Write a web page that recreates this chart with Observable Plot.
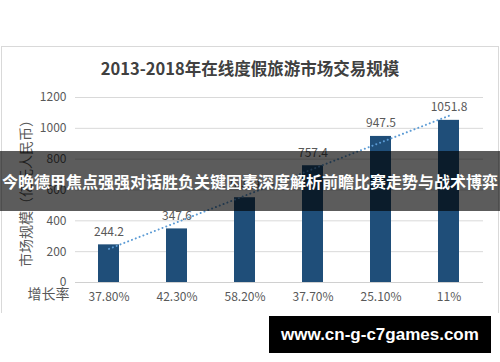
<!DOCTYPE html>
<html>
<head>
<meta charset="utf-8">
<script src="https://cdn.jsdelivr.net/npm/d3@7"></script>
<script src="https://cdn.jsdelivr.net/npm/@observablehq/plot@0.6"></script>
<style>
  html, body { margin: 0; padding: 0; background: #fff; }
  #wrap { position: relative; width: 500px; height: 362px; overflow: hidden; background: #fff;
          font-family: "Noto Sans CJK SC", sans-serif; }
  #frame { position: absolute; left: 1px; top: 46px; width: 498px; height: 267px; box-sizing: border-box;
           border: 1px solid #d9d9d9; border-bottom: none; }
  #title { position: absolute; left: 0; top: 56px; width: 500px; text-align: center;
           font-size: 16.5px; font-weight: bold; color: #404040; line-height: 24px; }
  #chart { position: absolute; left: 0; top: 80px; }
  #ylabel { position: absolute; left: 25px; top: 189.5px; width: 0; height: 0; }
  #ylabel span { position: absolute; left: 0; top: 0; transform: translate(-50%, -50%) rotate(-90deg);
                 white-space: nowrap; font-size: 14px; color: #595959; line-height: 16px; }
  #banner { position: absolute; left: 0; top: 151px; width: 500px; height: 60px; background: rgba(0,0,0,0.64);
            color: #fff; font-weight: bold; font-size: 16px; line-height: 60px; text-align: center; white-space: nowrap; }
  #mark { position: absolute; left: 269px; top: 316px; width: 222px; height: 37px; background: #000;
          color: #fff; font-family: "Liberation Sans", Arial, sans-serif; font-weight: bold; font-size: 17px;
          line-height: 37px; text-align: center; }
</style>
</head>
<body>
<div id="wrap">
  <div id="frame"></div>
  <div id="title"></div>
  <div id="chart"></div>
  <div id="ylabel"><span></span></div>
  <div id="banner"></div>
  <div id="mark"></div>
</div>
<script>
const titleText = "2013-2018年在线度假旅游市场交易规模";
const years = ["2013", "2014", "2015", "2016", "2017", "2018"];
const values = [244.2, 347.6, 549.9, 757.4, 947.5, 1051.8];
const growth = ["37.80%", "42.30%", "58.20%", "37.70%", "25.10%", "11%"];
const yTicks = [0, 200, 400, 600, 800, 1000, 1200];
const yLabel = "市场规模（亿元人民币）";
const growthLabel = "增长率";
const bannerText = "今晚德甲焦点强强对话胜负关键因素深度解析前瞻比赛走势与战术博弈";
const markText = "www.cn-g-c7games.com";

document.getElementById("title").textContent = titleText;
document.querySelector("#ylabel span").textContent = yLabel;
document.getElementById("banner").textContent = bannerText;
document.getElementById("mark").textContent = markText;

const data = years.map((y, i) => ({year: y, value: values[i], growth: growth[i], idx: i + 1}));

// linear trendline (least squares) computed from the data
const mx = d3.mean(data, d => d.idx), my = d3.mean(data, d => d.value);
const slope = d3.sum(data, d => (d.idx - mx) * (d.value - my)) / d3.sum(data, d => (d.idx - mx) ** 2);
const trend = data.map(d => ({year: d.year, value: my + slope * (d.idx - mx)}));

const plot = Plot.plot({
  width: 500,
  height: 232,
  marginLeft: 75,
  marginRight: 17,
  marginTop: 17,
  marginBottom: 30,
  style: {fontFamily: '"Noto Sans CJK SC", sans-serif', fontSize: "12px", color: "#595959", background: "transparent"},
  x: {domain: years, paddingInner: 0.69, paddingOuter: 0.345, label: null},
  y: {domain: [0, 1200], ticks: yTicks, label: null},
  marks: [
    Plot.gridY(yTicks.filter(t => t > 0), {stroke: "#d9d9d9", strokeOpacity: 1}),
    Plot.ruleY([0], {stroke: "#d0d0d0"}),
    Plot.axisY({ticks: yTicks, tickSize: 0, tickPadding: 9, label: null, fill: "#595959",
                tickFormat: d => String(d)}),
    Plot.axisX({tickSize: 0, tickPadding: 10, label: null, fill: "#595959",
                tickFormat: d => growth[years.indexOf(d)]}),
    Plot.barY(data, {x: "year", y: "value", fill: "#1f4e79"}),
    Plot.line(trend, {x: "year", y: "value", stroke: "#5b9bd5", strokeWidth: 2,
                      strokeDasharray: "0.1,4", strokeLinecap: "round"}),
    Plot.text(data, {x: "year", y: "value", text: d => d.value.toFixed(1), dy: -9,
                     lineAnchor: "bottom", fill: "#595959", fontSize: 12}),
    Plot.text([growthLabel], {text: d => d, frameAnchor: "bottom-left", textAnchor: "middle",
                              dx: -27, dy: 16, fill: "#595959", fontSize: 14})
  ]
});
document.getElementById("chart").appendChild(plot);
</script>
</body>
</html>
